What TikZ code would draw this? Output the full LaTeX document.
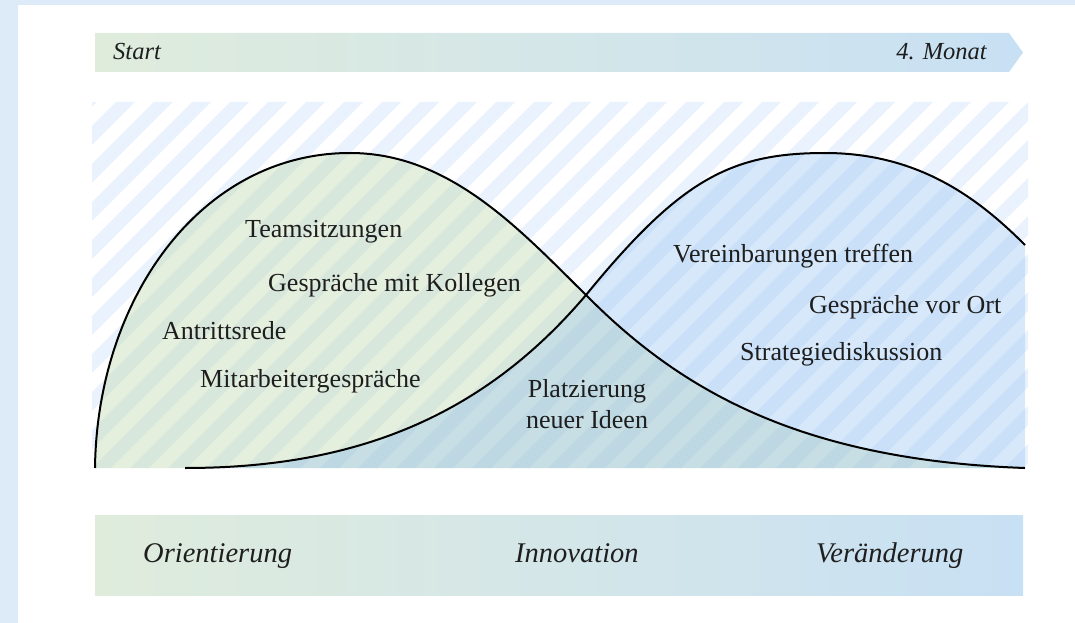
\documentclass[tikz,border=0pt]{standalone}
\usepackage{fontspec}
\setmainfont{Liberation Serif}
\definecolor{framebg}{RGB}{221,235,248}
\definecolor{stripebg}{RGB}{234,243,253}
\definecolor{barL}{RGB}{223,236,220}
\definecolor{barR}{RGB}{200,224,244}
\definecolor{gfill}{RGB}{190,215,172}
\definecolor{bfill}{RGB}{140,190,240}
\definecolor{txt}{RGB}{30,30,30}
\tikzset{
  lbl/.style={anchor=base west, inner sep=0pt, text=txt, font=\fontsize{26bp}{31bp}\selectfont},
  ilbl/.style={anchor=base west, inner sep=0pt, text=txt, font=\fontsize{24.5bp}{29bp}\selectfont\itshape},
  phase/.style={anchor=base west, inner sep=0pt, text=txt, font=\fontsize{28.5bp}{33bp}\selectfont\itshape},
  curve/.style={line width=2bp, black},
}
\begin{document}
\begin{tikzpicture}[x=1bp,y=-1bp]
\useasboundingbox (0,0) rectangle (1075,623);
% frame
\fill[framebg] (0,0) rectangle (1075,5);
\fill[framebg] (0,0) rectangle (18,623);
% timeline arrow
\shade[left color=barL, right color=barR] (95,33) -- (1009,33) -- (1023,52.5) -- (1009,72) -- (95,72) -- cycle;
\node[ilbl] (start) at (113,60) {Start};
\node[ilbl, anchor=base east] (monat) at (987,60) {4. Monat};
% striped background
\begin{scope}
\clip (92,102) rectangle (1028,468);
\foreach \i in {-12,...,26} {
  \fill[stripebg] ({92+\i*38},468) -- ++(19,0) -- ++(366,-366) -- ++(-19,0) -- cycle;
}
\end{scope}
% fills
\fill[gfill, fill opacity=0.4] (95,468) .. controls (97,300) and (200,153) .. (350,153)
  .. controls (450,153) and (520,230) .. (586,295)
  .. controls (680,390) and (800,460) .. (1025,468) -- cycle;
\fill[bfill, fill opacity=0.35] (185,468) .. controls (350,468) and (480,420) .. (586,295)
  .. controls (680,180) and (730,153) .. (825,153)
  .. controls (920,153) and (980,200) .. (1025,245) -- (1025,468) -- cycle;
% curves
\draw[curve] (95,468) .. controls (97,300) and (200,153) .. (350,153)
  .. controls (450,153) and (520,230) .. (586,295)
  .. controls (680,390) and (800,460) .. (1025,468);
\draw[curve] (185,468) .. controls (350,468) and (480,420) .. (586,295)
  .. controls (680,180) and (730,153) .. (825,153)
  .. controls (920,153) and (980,200) .. (1025,245);
% labels
\node[lbl] (t1) at (245,238) {Teamsitzungen};
\node[lbl] (t2) at (268,292) {Gespräche mit Kollegen};
\node[lbl] (t3) at (162,339) {Antrittsrede};
\node[lbl] (t4) at (200,387) {Mitarbeitergespräche};
\node[lbl, anchor=base] (t5) at (587,397) {Platzierung};
\node[lbl, anchor=base] (t6) at (587,428) {neuer Ideen};
\node[lbl] (t7) at (673,263) {Vereinbarungen treffen};
\node[lbl] (t8) at (809,314) {Gespräche vor Ort};
\node[lbl] (t9) at (740,360) {Strategiediskussion};
% phases bar
\shade[left color=barL, right color=barR] (95,515) rectangle (1023,595);
\node[phase] (p1) at (143,562) {Orientierung};
\node[phase] (p2) at (515,562) {Innovation};
\node[phase] (p3) at (816,562) {Veränderung};
\end{tikzpicture}
\end{document}
